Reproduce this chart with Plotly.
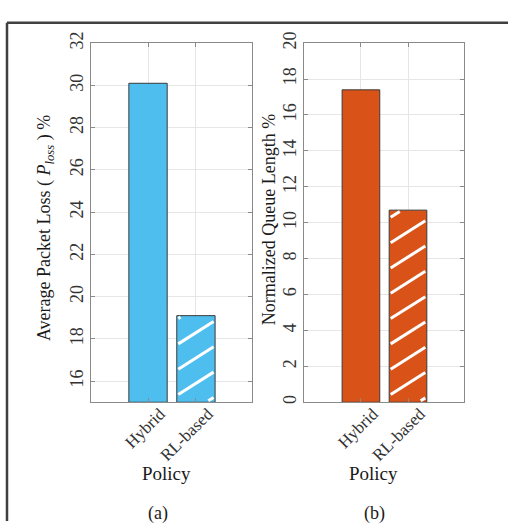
import plotly.graph_objects as go

# ---- data ----
policies = ["Hybrid", "RL-based"]
packet_loss = [30.1, 19.1]          # Average Packet Loss (%)
queue_length = [17.4, 10.7]         # Normalized Queue Length (%)
hatched = [False, True]

W, H = 508, 523
FONT = "Liberation Serif"
BLUE = "#4DBEEE"
ORANGE = "#D95319"

# plot-area boxes in pixels: (left, right, top, bottom)
box_a = (91, 252, 32, 401)
box_b = (304, 464, 32, 401)
xr_a = [-1.19, 2.17]
xr_b = [-1.21, 2.19]
yr_a = [15, 32]
yr_b = [0, 20]
BAR_W = 0.8


def dom(box):
    l, r, t, b = box
    return [l / W, r / W], [1 - b / H, 1 - t / H]


def hatch(xc, val, box, xr, yr, spacing=26.0, slope=0.65, phase=8.0, inset=1.5):
    """Diagonal hatch segments for a bar, computed in pixel space and mapped to data."""
    l, r, t, b = box
    ppx = (r - l) / (xr[1] - xr[0])
    ppy = (b - t) / (yr[1] - yr[0])
    bw = BAR_W * ppx
    bh = (val - yr[0]) * ppy
    x0d = xc - BAR_W / 2
    xs, ys = [], []
    W_in, H_in = bw - 2 * inset, bh - 2 * inset
    k = -int(slope * bw / spacing) - 2
    while True:
        c = phase + k * spacing - inset
        k += 1
        if c > H_in:
            break
        xa = max(0.0, -c / slope)
        xb = min(W_in, (H_in - c) / slope)
        if xa >= xb:
            continue
        for px in (xa, xb):
            py = c + slope * px
            xs.append(x0d + (px + inset) / ppx)
            ys.append(yr[0] + (py + inset) / ppy)
        xs.append(None)
        ys.append(None)
    return xs, ys


fig = go.Figure()
panels = [
    ("x", "y", packet_loss, BLUE, box_a, xr_a, yr_a),
    ("x2", "y2", queue_length, ORANGE, box_b, xr_b, yr_b),
]
xpos = list(range(len(policies)))
for xa, ya, vals, col, box, xr, yr in panels:
    fig.add_trace(go.Bar(
        x=xpos, y=[v - yr[0] for v in vals], base=yr[0], width=BAR_W,
        marker=dict(color=col, line=dict(color="#3a3a3a", width=1)),
        xaxis=xa, yaxis=ya, showlegend=False, hoverinfo="skip",
    ))
    for i, v in enumerate(vals):
        if hatched[i]:
            hx, hy = hatch(xpos[i], v, box, xr, yr)
            fig.add_trace(go.Scatter(
                x=hx, y=hy, mode="lines",
                line=dict(color="white", width=3),
                xaxis=xa, yaxis=ya, showlegend=False, hoverinfo="skip",
            ))

axis_common = dict(
    showline=True, linecolor="#8a8a8a", linewidth=1, mirror="ticks",
    showgrid=True, gridcolor="#e6e6e6", gridwidth=1,
    ticks="inside", ticklen=4, tickcolor="#8a8a8a",
    zeroline=False,
)
ytick = dict(tickangle=-90, tickfont=dict(family=FONT, size=18, color="#333333"))
xtick = dict(tickangle=-45, ticklabelshift=12, ticklabelstandoff=-6,
             tickfont=dict(family=FONT, size=17, color="#333333"))

xd_a, yd_a = dom(box_a)
xd_b, yd_b = dom(box_b)
fig.update_layout(
    width=W, height=H,
    margin=dict(l=0, r=0, t=0, b=0),
    paper_bgcolor="white", plot_bgcolor="white",
    xaxis=dict(domain=xd_a, range=xr_a, tickvals=xpos, ticktext=policies,
               anchor="y", **xtick, **axis_common),
    yaxis=dict(domain=yd_a, range=yr_a, tick0=0, dtick=2,
               anchor="x", **ytick, **axis_common),
    xaxis2=dict(domain=xd_b, range=xr_b, tickvals=xpos, ticktext=policies,
                anchor="y2", **xtick, **axis_common),
    yaxis2=dict(domain=yd_b, range=yr_b, tick0=0, dtick=2,
                anchor="x2", **ytick, **axis_common),
)

ann_font = dict(family=FONT, size=18, color="#1a1a1a")
annotations = [
    dict(text="Average Packet Loss ( <i>P</i><sub><i>loss</i></sub> ) %",
         x=45 / W, y=1 - 222 / H, textangle=-90),
    dict(text="Normalized Queue Length %", x=269 / W, y=1 - 214 / H, textangle=-90),
    dict(text="Policy", x=166 / W, y=1 - 474 / H, font=dict(family=FONT, size=19, color="#1a1a1a")),
    dict(text="Policy", x=373 / W, y=1 - 474 / H, font=dict(family=FONT, size=19, color="#1a1a1a")),
    dict(text="(a)", x=158 / W, y=1 - 515 / H),
    dict(text="(b)", x=374 / W, y=1 - 515 / H),
]
for a in annotations:
    a.setdefault("font", ann_font)
    fig.add_annotation(xref="paper", yref="paper", showarrow=False,
                       xanchor="center", yanchor="middle", **a)

# outer frame (top and left edges)
frame = dict(type="line", xref="paper", yref="paper",
             line=dict(color="#404040", width=2.5))
fig.add_shape(x0=7 / W, x1=1, y0=1 - 11 / H, y1=1 - 11 / H, **frame)
fig.add_shape(x0=7 / W, x1=7 / W, y0=0, y1=1 - 11 / H, **frame)

fig.write_html("out.html")
